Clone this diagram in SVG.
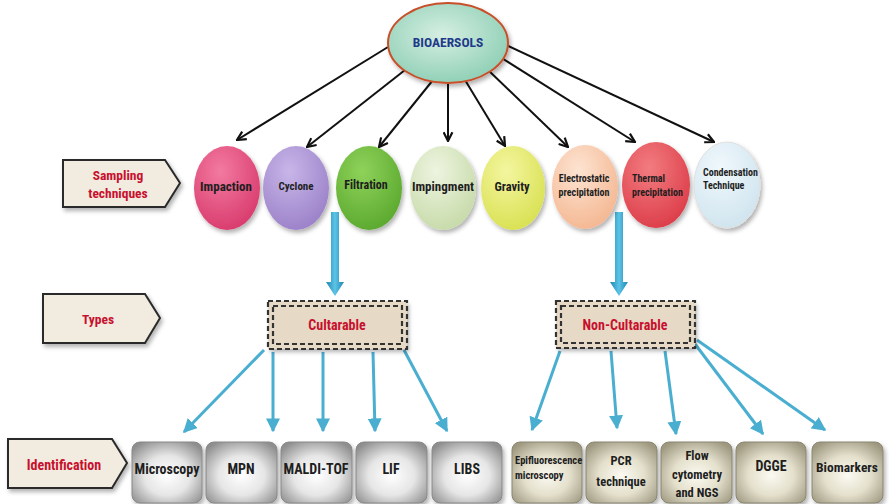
<svg xmlns="http://www.w3.org/2000/svg" width="889" height="504" viewBox="0 0 889 504">
<defs>
<style>
.lbl{font-family:"Liberation Sans Narrow","Roboto Condensed","DejaVu Sans Condensed","Liberation Sans",sans-serif;font-weight:bold;text-anchor:middle;dominant-baseline:central;fill:#1e1e1e}
.red{fill:#c8102e}
.tag{fill:#f2ebe0;stroke:#2a2a2a;stroke-width:2}
.blk{stroke:#111;stroke-width:2;fill:none;marker-end:url(#ah)}
.blu{stroke:#4aaed0;stroke-width:3;fill:none;marker-end:url(#bh)}
.gbox{fill:url(#gg);stroke:#888;stroke-width:1}
.tbox{fill:url(#tg);stroke:#8a8570;stroke-width:1}
.dash{fill:none;stroke:#333;stroke-width:2.2;stroke-dasharray:5 3}
</style>
<marker id="ah" viewBox="0 0 10 10" refX="9" refY="5" markerWidth="11" markerHeight="11" markerUnits="userSpaceOnUse" orient="auto"><path d="M1,1 L9,5 L1,9" fill="none" stroke="#111" stroke-width="2"/></marker>
<marker id="bh" viewBox="0 0 10 10" refX="9" refY="5" markerWidth="14" markerHeight="14" markerUnits="userSpaceOnUse" orient="auto"><path d="M0,0 L10,5 L0,10 Z" fill="#4aaed0"/></marker>
<filter id="sh" x="-20%" y="-20%" width="150%" height="150%"><feDropShadow dx="2" dy="3" stdDeviation="2" flood-color="#000" flood-opacity="0.3"/></filter>
<radialGradient id="bio" cx="0.45" cy="0.4" r="0.7"><stop offset="0" stop-color="#d6efe2"/><stop offset="1" stop-color="#86cbb0"/></radialGradient>
<radialGradient id="gg" cx="0.5" cy="0.55" r="0.65"><stop offset="0" stop-color="#ffffff"/><stop offset="0.5" stop-color="#e6e6e6"/><stop offset="1" stop-color="#8e8e8e"/></radialGradient>
<radialGradient id="tg" cx="0.5" cy="0.55" r="0.65"><stop offset="0" stop-color="#fbfaf2"/><stop offset="0.5" stop-color="#e4e0cc"/><stop offset="1" stop-color="#9e9880"/></radialGradient>
<radialGradient id="c1" cx="0.4" cy="0.3" r="0.75"><stop offset="0" stop-color="#f27aa0"/><stop offset="1" stop-color="#d83a6c"/></radialGradient>
<radialGradient id="c2" cx="0.4" cy="0.3" r="0.75"><stop offset="0" stop-color="#c8b6e8"/><stop offset="1" stop-color="#9a80c8"/></radialGradient>
<radialGradient id="c3" cx="0.4" cy="0.3" r="0.75"><stop offset="0" stop-color="#8fd25a"/><stop offset="1" stop-color="#5aa82e"/></radialGradient>
<radialGradient id="c4" cx="0.4" cy="0.3" r="0.75"><stop offset="0" stop-color="#eef4e0"/><stop offset="1" stop-color="#c6daa8"/></radialGradient>
<radialGradient id="c5" cx="0.4" cy="0.3" r="0.75"><stop offset="0" stop-color="#f4f6a0"/><stop offset="1" stop-color="#d8e050"/></radialGradient>
<radialGradient id="c6" cx="0.4" cy="0.3" r="0.75"><stop offset="0" stop-color="#fde4d2"/><stop offset="1" stop-color="#f4b690"/></radialGradient>
<radialGradient id="c7" cx="0.4" cy="0.3" r="0.75"><stop offset="0" stop-color="#f27c80"/><stop offset="1" stop-color="#dc3c48"/></radialGradient>
<radialGradient id="c8" cx="0.4" cy="0.3" r="0.75"><stop offset="0" stop-color="#f0f8fc"/><stop offset="1" stop-color="#cfe4ee"/></radialGradient>
<linearGradient id="bl" x1="0" y1="0" x2="1" y2="0"><stop offset="0" stop-color="#1f86b4"/><stop offset="0.5" stop-color="#5cc4e6"/><stop offset="1" stop-color="#1f86b4"/></linearGradient>
</defs>
<rect width="889" height="504" fill="#ffffff"/>

<g id="connectors">
<line class="blk" x1="388" y1="47" x2="237" y2="140"/>
<line class="blk" x1="405" y1="70" x2="307" y2="147"/>
<line class="blk" x1="433" y1="80" x2="379" y2="147"/>
<line class="blk" x1="448" y1="82" x2="448" y2="141"/>
<line class="blk" x1="465" y1="80" x2="505" y2="146"/>
<line class="blk" x1="487" y1="69" x2="568" y2="147"/>
<line class="blk" x1="500" y1="57" x2="635" y2="142"/>
<line class="blk" x1="504" y1="44" x2="714" y2="142"/>
<path d="M331,212 H339 V282 H344 L335,296 L326,282 H331 Z" fill="url(#bl)"/>
<path d="M615,212 H623 V282 H628 L619,296 L610,282 H615 Z" fill="url(#bl)"/>
<line class="blu" x1="264" y1="350" x2="184" y2="432"/>
<line class="blu" x1="273" y1="352" x2="273" y2="431"/>
<line class="blu" x1="323" y1="352" x2="323" y2="431"/>
<line class="blu" x1="373" y1="352" x2="375" y2="431"/>
<line class="blu" x1="404" y1="350" x2="447" y2="431"/>
<line class="blu" x1="560" y1="351" x2="532" y2="430"/>
<line class="blu" x1="611" y1="351" x2="617" y2="428"/>
<line class="blu" x1="665" y1="351" x2="676" y2="434"/>
<line class="blu" x1="695" y1="344" x2="763" y2="434"/>
<line class="blu" x1="697" y1="340" x2="825" y2="430"/>
</g>

<g id="bioaersols">
<ellipse cx="448" cy="43" rx="60" ry="40" fill="url(#bio)" stroke="#c8502a" stroke-width="2" filter="url(#sh)"/>
<text class="lbl" x="448" y="42" font-size="13.5" style="fill:#1f3a8a">BIOAERSOLS</text>
</g>

<g id="sampling-tag">
<path class="tag" d="M63,160 H165 L180,183 L165,207 H63 Z" filter="url(#sh)"/>
<text class="lbl red" x="118" y="175" font-size="13.5">Sampling</text>
<text class="lbl red" x="118" y="193" font-size="13.5">techniques</text>
</g>
<g id="types-tag">
<path class="tag" d="M43,294 H145 L160,318 L145,343 H43 Z" filter="url(#sh)"/>
<text class="lbl red" x="98" y="319" font-size="13.5">Types</text>
</g>
<g id="identification-tag">
<path class="tag" d="M8,439 H112 L127,463 L112,488 H8 Z" filter="url(#sh)"/>
<text class="lbl red" x="64" y="465" font-size="14">Identification</text>
</g>

<g id="impaction"><ellipse cx="227" cy="188" rx="33" ry="42" fill="url(#c1)" filter="url(#sh)"/><text class="lbl" x="226" y="186" font-size="13">Impaction</text></g>
<g id="cyclone"><ellipse cx="296" cy="188" rx="33" ry="42" fill="url(#c2)" filter="url(#sh)"/><text class="lbl" x="296" y="186" font-size="11">Cyclone</text></g>
<g id="filtration"><ellipse cx="369" cy="188" rx="33" ry="42" fill="url(#c3)" filter="url(#sh)"/><text class="lbl" x="366" y="185" font-size="12">Filtration</text></g>
<g id="impingment"><ellipse cx="443" cy="188" rx="33" ry="42" fill="url(#c4)" filter="url(#sh)"/><text class="lbl" x="443" y="186" font-size="13">Impingment</text></g>
<g id="gravity"><ellipse cx="513" cy="188" rx="32" ry="42" fill="url(#c5)" filter="url(#sh)"/><text class="lbl" x="512" y="186" font-size="12.5">Gravity</text></g>
<g id="electrostatic"><ellipse cx="585" cy="187" rx="33" ry="42" fill="url(#c6)" filter="url(#sh)"/><text class="lbl" x="584" y="178" font-size="10">Electrostatic</text><text class="lbl" x="584" y="192" font-size="10">precipitation</text></g>
<g id="thermal"><ellipse cx="656" cy="185" rx="34" ry="43" fill="url(#c7)" filter="url(#sh)"/><text class="lbl" x="632" y="178" font-size="10" style="text-anchor:start">Thermal</text><text class="lbl" x="632" y="192" font-size="10" style="text-anchor:start">precipitation</text></g>
<g id="condensation"><ellipse cx="727" cy="185" rx="33" ry="43" fill="url(#c8)" stroke="#e0e0e0" stroke-width="1" filter="url(#sh)"/><text class="lbl" x="703" y="172" font-size="10" style="text-anchor:start">Condensation</text><text class="lbl" x="703" y="185" font-size="10" style="text-anchor:start">Technique</text></g>

<g id="cultarable">
<rect x="268" y="301" width="139" height="48" fill="#e6dac6" filter="url(#sh)"/>
<rect class="dash" x="268" y="301" width="139" height="48"/>
<rect class="dash" x="273" y="306" width="129" height="38"/>
<text class="lbl red" x="337" y="325" font-size="14">Cultarable</text>
</g>
<g id="non-cultarable">
<rect x="556" y="301" width="139" height="47" fill="#e6dac6" filter="url(#sh)"/>
<rect class="dash" x="556" y="301" width="139" height="47"/>
<rect class="dash" x="561" y="306" width="129" height="37"/>
<text class="lbl red" x="625" y="325" font-size="14">Non-Cultarable</text>
</g>

<g id="microscopy"><rect class="gbox" x="132" y="442" width="70" height="61" rx="8" filter="url(#sh)"/><text class="lbl" x="167" y="469" font-size="14">Microscopy</text></g>
<g id="mpn"><rect class="gbox" x="206" y="442" width="71" height="61" rx="8" filter="url(#sh)"/><text class="lbl" x="241" y="469" font-size="14">MPN</text></g>
<g id="maldi-tof"><rect class="gbox" x="281" y="442" width="71" height="61" rx="8" filter="url(#sh)"/><text class="lbl" x="316" y="469" font-size="14">MALDI-TOF</text></g>
<g id="lif"><rect class="gbox" x="356" y="442" width="71" height="61" rx="8" filter="url(#sh)"/><text class="lbl" x="391" y="469" font-size="14">LIF</text></g>
<g id="libs"><rect class="gbox" x="432" y="442" width="70" height="61" rx="8" filter="url(#sh)"/><text class="lbl" x="467" y="469" font-size="14">LIBS</text></g>

<g id="epifluorescence"><rect class="tbox" x="512" y="442" width="70" height="61" rx="8" filter="url(#sh)"/><text class="lbl" x="515" y="460" font-size="10.5" style="text-anchor:start">Epifluorescence</text><text class="lbl" x="515" y="475" font-size="10.5" style="text-anchor:start">microscopy</text></g>
<g id="pcr"><rect class="tbox" x="586" y="442" width="71" height="61" rx="8" filter="url(#sh)"/><text class="lbl" x="621" y="460" font-size="12.5">PCR</text><text class="lbl" x="621" y="481" font-size="12.5">technique</text></g>
<g id="flow"><rect class="tbox" x="661" y="442" width="71" height="61" rx="8" filter="url(#sh)"/><text class="lbl" x="697" y="455" font-size="12.5">Flow</text><text class="lbl" x="697" y="474" font-size="12.5">cytometry</text><text class="lbl" x="697" y="492" font-size="12.5">and NGS</text></g>
<g id="dgge"><rect class="tbox" x="736" y="442" width="70" height="61" rx="8" filter="url(#sh)"/><text class="lbl" x="771" y="466" font-size="14">DGGE</text></g>
<g id="biomarkers"><rect class="tbox" x="812" y="442" width="71" height="61" rx="8" filter="url(#sh)"/><text class="lbl" x="847" y="467" font-size="13.5">Biomarkers</text></g>
</svg>
